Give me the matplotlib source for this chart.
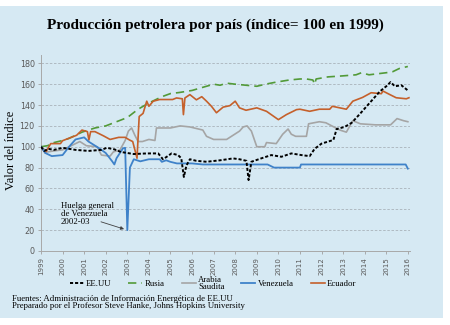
import matplotlib
matplotlib.use("Agg")
import matplotlib.pyplot as plt
from matplotlib.patches import Rectangle

# ---------------- data (index, 1999 = 100) ----------------
years = list(range(1999, 2017))
year_labels = [str(y) for y in years]
y_ticks = [0, 20, 40, 60, 80, 100, 120, 140, 160, 180]

us_x = [1999.0, 1999.15, 1999.35, 1999.6, 2000.0, 2000.6, 2001.2, 2001.8, 2002.05, 2002.4,
        2002.7, 2003.0, 2003.3, 2003.8, 2004.05, 2004.43, 2004.65, 2004.8, 2005.05, 2005.35,
        2005.5, 2005.62, 2005.74, 2005.9, 2006.2, 2006.67, 2007.3, 2007.9, 2008.2, 2008.52,
        2008.62, 2008.75, 2009.2, 2009.67, 2010.14, 2010.6, 2011.07, 2011.45, 2011.68, 2012.0,
        2012.55, 2012.7, 2013.07, 2013.4, 2013.8, 2014.1, 2014.4, 2014.7, 2015.0, 2015.2,
        2015.4, 2015.7, 2016.0]
us_v = [100, 96, 98, 97, 99, 97, 96, 97, 99, 97.5,
        95, 94, 93, 93.5, 93.6, 93.6, 88, 90, 93.6, 92,
        89, 71, 82, 88, 86.5, 85.6, 87, 88.8, 88, 86.5,
        68, 85.6, 88.8, 92, 90.4, 93.6, 92, 91, 98, 103,
        106.5, 117, 119, 123, 132, 139, 146, 153, 158, 162,
        158, 159, 154]

ru_x = [1999.0, 1999.3, 1999.6, 2000.0, 2000.3, 2000.9, 2001.5, 2002.0, 2002.5, 2003.0,
        2003.5, 2004.0, 2004.3, 2004.6, 2005.0, 2005.4, 2006.0, 2006.5, 2007.0, 2007.3,
        2007.6, 2008.0, 2008.5, 2009.0, 2009.4, 2009.9, 2010.5, 2011.0, 2011.3, 2011.6,
        2011.68, 2011.75, 2012.3, 2013.0, 2013.6, 2013.85, 2014.2, 2014.6, 2015.0, 2015.3,
        2015.6, 2016.0]
ru_v = [100, 101, 104, 106, 108, 114, 118, 120, 124, 128,
        136, 142, 145, 148, 151, 152, 154, 157, 160, 159,
        161, 160, 159, 158, 160, 162, 164, 165, 165, 164,
        160, 165, 167, 168, 169, 171, 169, 170, 171, 172,
        175, 177]

sa_x = [1999.0, 1999.3, 1999.6, 2000.0, 2000.4, 2000.8, 2001.1, 2001.6, 2001.8, 2002.2,
        2002.35, 2002.66, 2002.9, 2003.05, 2003.2, 2003.35, 2003.5, 2003.7, 2004.0, 2004.28,
        2004.35, 2005.0, 2005.45, 2005.9, 2006.5, 2006.67, 2007.0, 2007.6, 2007.9, 2008.2,
        2008.37, 2008.55, 2008.75, 2009.0, 2009.37, 2009.45, 2009.9, 2010.2, 2010.45, 2010.6,
        2010.8, 2011.3, 2011.4, 2011.9, 2012.2, 2012.85, 2013.15, 2013.45, 2013.8, 2014.5,
        2015.2, 2015.5, 2015.8, 2016.0]
sa_v = [100, 95, 96, 97, 101, 105, 101, 100, 92, 91,
        95, 97, 106, 115, 118, 111, 105, 105, 107, 106,
        118, 118, 120, 119, 116, 110, 107, 107, 111, 115,
        119, 120, 115, 100, 100, 104, 103, 112, 117, 112,
        110, 110, 122, 124, 123, 116, 114, 125, 122, 121,
        121, 127, 125, 124]

ve_x = [1999.0, 1999.2, 1999.5, 2000.0, 2000.3, 2000.6, 2001.0, 2001.2, 2001.7, 2002.0,
        2002.3, 2002.4, 2002.5, 2002.8, 2002.9, 2003.0, 2003.12, 2003.3, 2003.6, 2004.0,
        2004.5, 2004.6, 2004.8, 2005.0, 2005.3, 2006.0, 2006.5, 2009.5, 2009.8, 2011.0,
        2011.05, 2015.9, 2016.0]
ve_v = [100, 94, 91, 92, 100, 107, 109, 105, 98.5, 94,
        86, 83, 89, 98.5, 99, 20, 80, 88, 86, 88,
        88, 85.5, 87, 85.5, 84, 84, 83, 83, 80, 80,
        83, 83, 79]

ec_x = [1999.0, 1999.2, 1999.45, 1999.9, 2000.0, 2000.65, 2000.9, 2001.15, 2001.22, 2001.3,
        2001.5, 2001.9, 2002.2, 2002.6, 2002.9, 2003.1, 2003.25, 2003.35, 2003.45, 2003.55,
        2003.73, 2003.9, 2004.0, 2004.2, 2004.5, 2005.1, 2005.28, 2005.55, 2005.6, 2005.67,
        2005.9, 2006.2, 2006.45, 2006.67, 2006.9, 2007.13, 2007.44, 2007.75, 2008.0, 2008.2,
        2008.5, 2009.0, 2009.45, 2010.0, 2010.37, 2010.84, 2011.0, 2011.45, 2011.9, 2012.38,
        2012.5, 2013.15, 2013.45, 2013.9, 2014.3, 2014.77, 2014.85, 2015.15, 2015.46, 2015.93,
        2016.05]
ec_v = [100, 94, 103, 103, 105.8, 111, 116, 114.5, 106.5, 114.5,
        114.5, 110.4, 107, 109, 109, 106.5, 105, 97, 89, 129,
        132, 143.7, 138.8, 143.7, 145.3, 145.3, 146.8, 146, 130.8, 146.8,
        150, 145, 148, 143.7, 138.8, 132.6, 138, 139.4, 143.7, 137.3,
        135, 137.3, 134, 126, 130.8, 135.6, 136, 134, 136, 136,
        138.8, 136, 143.7, 147.3, 151.8, 150.9, 153.4, 150.2, 147, 146,
        147]

names = ["EE.UU", "Rusia", "Arabia\nSaudita", "Venezuela", "Ecuador"]
colors = ["#000000", "#529a38", "#a5a5a5", "#3f82c9", "#c5602b"]

title = "Producción petrolera por país (índice= 100 en 1999)"
ylabel = "Valor del índice"
note = "Huelga general\nde Venezuela\n2002-03"
source1 = "Fuentes: Administración de Información Energética de EE.UU"
source2 = "Preparado por el Profesor Steve Hanke, Johns Hopkins University"

# ---------------- figure ----------------
W, H = 450, 325
fig = plt.figure(figsize=(W / 100, H / 100), dpi=100)
fig.patch.set_facecolor("white")
bg = "#d6e9f3"
fig.add_artist(Rectangle((0, 7 / H), 443 / W, 312 / H, transform=fig.transFigure,
                         facecolor=bg, edgecolor="none", zorder=-10))

ax = fig.add_axes([41 / W, 74 / H, 369 / W, 196 / H])
ax.set_facecolor("none")

serif = ["Liberation Serif", "DejaVu Serif"]

series = [(us_x, us_v), (ru_x, ru_v), (sa_x, sa_v), (ve_x, ve_v), (ec_x, ec_v)]
styles = [dict(ls=(0, (1.6, 1.0)), lw=1.4),
          dict(ls=(0, (5, 3)), lw=1.2),
          dict(ls="-", lw=1.2),
          dict(ls="-", lw=1.3),
          dict(ls="-", lw=1.2)]
draw_order = [2, 1, 4, 3, 0]
handles = [None] * 5
for z, i in enumerate(draw_order):
    xs, vs = series[i]
    (ln,) = ax.plot(xs, vs, color=colors[i], zorder=3 + z, **styles[i])
    handles[i] = ln

ax.set_xlim(1999, 2016.1)
ax.set_ylim(0, 188)
ax.set_xticks(years)
ax.set_xticklabels(year_labels, rotation=90, fontsize=5.0, color="#595959")
ax.set_yticks(y_ticks)
ax.set_yticklabels([str(v) for v in y_ticks], fontsize=5.8, color="#595959")
ax.tick_params(axis="x", length=2.5, width=0.6, color="#a0a0a0", pad=2)
ax.tick_params(axis="y", length=2.5, width=0.6, color="#a0a0a0", pad=2)
ax.yaxis.grid(True, ls=(0, (3, 2)), lw=0.6, color="#a9b3ba")
ax.set_axisbelow(True)
for s in ["top", "right"]:
    ax.spines[s].set_visible(False)
for s in ["left", "bottom"]:
    ax.spines[s].set_color("#a8a8a8")
    ax.spines[s].set_linewidth(0.7)

# annotation
ax.text(1999.93, 35.5, note, fontsize=6.3, family=serif, va="center", ha="left",
        linespacing=0.95)
ax.annotate("", xy=(2002.85, 21), xytext=(2001.78, 28),
            arrowprops=dict(arrowstyle="-|>", color="#404040", lw=0.6,
                            mutation_scale=5, shrinkA=0, shrinkB=0))

# titles
fig.text(215 / W, 1 - 25 / H, title, ha="center", va="center", fontsize=11,
         fontweight="bold", family=serif)
fig.text(11 / W, 1 - 150 / H, ylabel, ha="center", va="center", rotation=90,
         fontsize=9, family=serif)

# legend
leg = fig.legend(handles, names, loc="center", bbox_to_anchor=(213 / W, 1 - 283.5 / H),
                 ncol=5, frameon=False, prop={"family": serif, "size": 6.3},
                 handlelength=1.6, handletextpad=0.3, columnspacing=1.9,
                 borderpad=0.0, borderaxespad=0.0)
for t in leg.get_texts():
    t.set_linespacing(0.85)

# sources
fig.text(12 / W, 1 - 299 / H, source1, fontsize=6.3, family=serif, va="center", ha="left")
fig.text(12 / W, 1 - 306.5 / H, source2, fontsize=6.3, family=serif, va="center", ha="left")

fig.savefig("out.png", dpi=100, facecolor=fig.get_facecolor())
